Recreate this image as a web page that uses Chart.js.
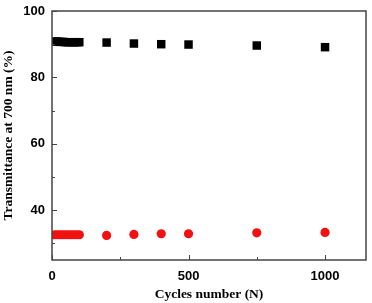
<!DOCTYPE html>
<html>
<head>
<meta charset="utf-8">
<script src="https://cdn.jsdelivr.net/npm/chart.js@4"></script>
<style>
html,body{margin:0;padding:0;background:#fff;}
#wrap{width:372px;height:303px;position:relative;}
</style>
</head>
<body>
<div id="wrap"><canvas id="c" width="372" height="303"></canvas></div>
<script>
const cycles = [10,20,30,40,50,60,70,80,90,100,200,300,400,500,750,1000];
const darkT = [90.8,90.8,90.7,90.7,90.6,90.6,90.6,90.6,90.6,90.6,90.5,90.2,90.0,89.9,89.6,89.1];
const brightT = [32.6,32.6,32.6,32.6,32.6,32.6,32.6,32.6,32.6,32.6,32.4,32.7,32.9,32.9,33.2,33.3];
const xTicks = [0,500,1000];
const xMinor = [250,750];
const yTicks = [40,60,80,100];
const yMinor = [30,50,70,90];

const toPts = (xs, ys) => xs.map((x,i)=>({x:x,y:ys[i]}));

const boxTicks = {
  id:'boxTicks',
  afterDatasetsDraw(chart){
    const {ctx, chartArea:a, scales} = chart;
    const xs = scales.x, ys = scales.y;
    ctx.save();
    ctx.strokeStyle = '#444';
    ctx.lineWidth = 1.5;
    ctx.strokeRect(a.left, a.top, a.right-a.left, a.bottom-a.top);
    ctx.lineWidth = 1;
    ctx.beginPath();
    xTicks.forEach(v=>{const p=Math.round(xs.getPixelForValue(v))+0.5; ctx.moveTo(p,a.bottom); ctx.lineTo(p,a.bottom-5);});
    xMinor.forEach(v=>{const p=Math.round(xs.getPixelForValue(v))+0.5; ctx.moveTo(p,a.bottom); ctx.lineTo(p,a.bottom-3);});
    yTicks.forEach(v=>{const p=Math.round(ys.getPixelForValue(v))+0.5; ctx.moveTo(a.left,p); ctx.lineTo(a.left+5,p);});
    yMinor.forEach(v=>{const p=Math.round(ys.getPixelForValue(v))+0.5; ctx.moveTo(a.left,p); ctx.lineTo(a.left+3,p);});
    ctx.stroke();
    ctx.restore();
  }
};

new Chart(document.getElementById('c'), {
  type:'scatter',
  data:{
    datasets:[
      {label:'dark', data:toPts(cycles,darkT), pointStyle:'rect', pointRadius:6, pointHoverRadius:6,
       backgroundColor:'#000', borderColor:'#000', borderWidth:0},
      {label:'bright', data:toPts(cycles,brightT), pointStyle:'circle', pointRadius:4.6, pointHoverRadius:4.6,
       backgroundColor:'#f21010', borderColor:'#f21010', borderWidth:0}
    ]
  },
  options:{
    responsive:false,
    animation:false,
    layout:{padding:{top:11,right:4,left:0,bottom:0}},
    plugins:{legend:{display:false}, tooltip:{enabled:false}},
    scales:{
      x:{
        type:'linear', min:0, max:1150,
        afterBuildTicks(s){ s.ticks = xTicks.map(v=>({value:v})); },
        afterFit(s){ s.height = 43; s.paddingLeft = 0; s.paddingRight = 0; },
        grid:{display:false, drawTicks:false},
        border:{display:false},
        ticks:{padding:9, color:'#000', font:{family:'Liberation Sans', size:13, weight:'bold'},
               callback:(v)=>String(v)},
        title:{display:true, text:'Cycles number (N)', color:'#000', padding:{top:3,bottom:0},
               font:{family:'Liberation Serif', size:13.5, weight:'bold'}}
      },
      y:{
        type:'linear', min:25, max:100,
        afterBuildTicks(s){ s.ticks = yTicks.map(v=>({value:v})); },
        afterFit(s){ s.width = 52; s.paddingTop = 0; s.paddingBottom = 0; },
        grid:{display:false, drawTicks:false},
        border:{display:false},
        ticks:{padding:7, color:'#000', font:{family:'Liberation Sans', size:13, weight:'bold'},
               callback:(v)=>String(v)},
        title:{display:true, text:'Transmittance at 700 nm (%)', color:'#000', padding:{top:0,bottom:0},
               font:{family:'Liberation Serif', size:13.5, weight:'bold'}}
      }
    }
  },
  plugins:[boxTicks]
});
</script>
</body>
</html>
